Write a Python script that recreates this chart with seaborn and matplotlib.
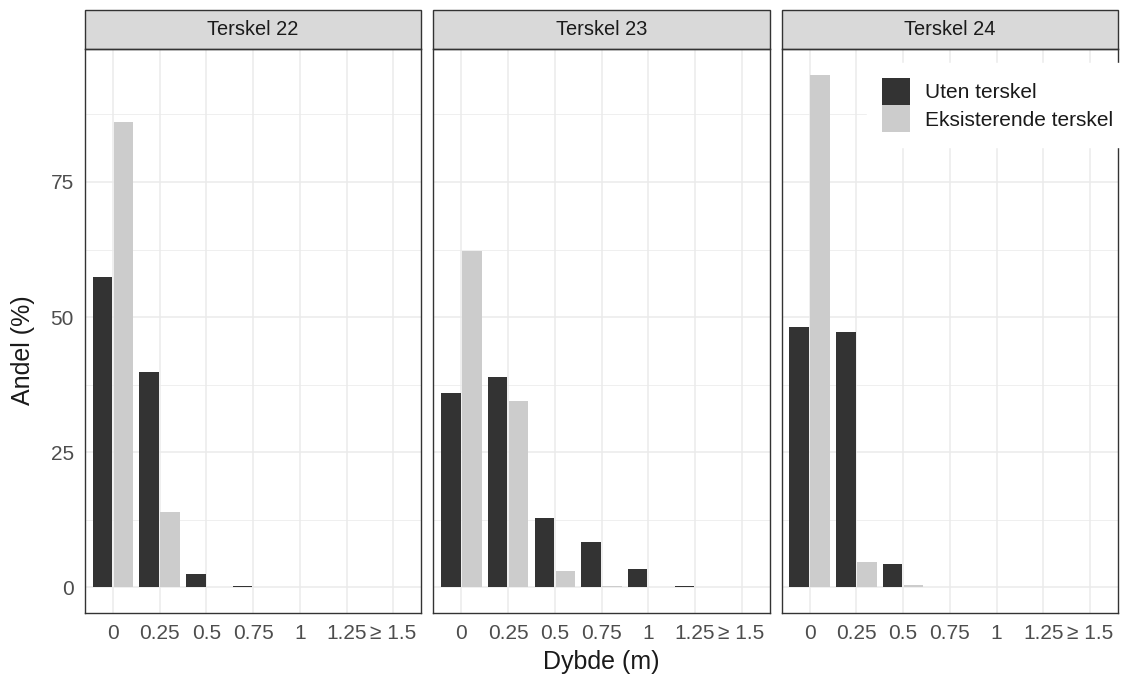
import matplotlib
matplotlib.use("Agg")
import matplotlib.pyplot as plt
from matplotlib.patches import Rectangle
from matplotlib.ticker import MultipleLocator
import seaborn as sns
import pandas as pd

categories = ["0", "0.25", "0.5", "0.75", "1", "1.25", "≥ 1.5"]
panels = ["Terskel 22", "Terskel 23", "Terskel 24"]
series_names = ["Uten terskel", "Eksisterende terskel"]
uten_22 = [57.5, 39.9, 2.4, 0.2, 0, 0, 0]
eks_22 = [86.1, 14.0, 0, 0, 0, 0, 0]
uten_23 = [36.0, 39.0, 12.9, 8.3, 3.3, 0.3, 0]
eks_23 = [62.3, 34.4, 3.0, 0.2, 0, 0, 0]
uten_24 = [48.1, 47.3, 4.4, 0, 0, 0, 0]
eks_24 = [94.8, 4.7, 0.4, 0, 0, 0, 0]

values = {
    "Terskel 22": (uten_22, eks_22),
    "Terskel 23": (uten_23, eks_23),
    "Terskel 24": (uten_24, eks_24),
}

rows = []
for p in panels:
    u, e = values[p]
    for c, v in zip(categories, u):
        rows.append({"panel": p, "Dybde": c, "Type": series_names[0], "Andel": v})
    for c, v in zip(categories, e):
        rows.append({"panel": p, "Dybde": c, "Type": series_names[1], "Andel": v})
df = pd.DataFrame(rows)

sns.set_style("white")
plt.rcParams["font.family"] = ["Liberation Sans", "DejaVu Sans"]

palette = {series_names[0]: "#333333", series_names[1]: "#cccccc"}
tick_fs = 15
strip_fs = 14.4
legend_fs = 15
big = 18

W, H = 1123, 676
fig, axes = plt.subplots(1, 3, figsize=(W / 100, H / 100), dpi=100, sharey=True)
fig.subplots_adjust(left=85 / W, right=1118 / W, top=1 - 49 / H, bottom=1 - 613 / H, wspace=0.036)

strip_h = 39 / 564
for i, (ax, p) in enumerate(zip(axes, panels)):
    sub = df[df.panel == p]
    sns.barplot(data=sub, x="Dybde", y="Andel", hue="Type", order=categories,
                hue_order=series_names, palette=palette, width=0.9, gap=0.07,
                errorbar=None, linewidth=0, saturation=1, ax=ax, legend=(i == 2))
    ax.set_xlim(-0.6, 6.6)
    ax.set_ylim(-4.75, 99.6)
    ax.yaxis.set_major_locator(MultipleLocator(25))
    ax.yaxis.set_minor_locator(MultipleLocator(12.5))
    ax.set_yticks([0, 25, 50, 75])
    ax.set_axisbelow(True)
    ax.grid(True, which="major", color="#ebebeb", linewidth=1.1)
    ax.grid(True, which="minor", axis="y", color="#ebebeb", linewidth=0.55)
    for s in ax.spines.values():
        s.set_color("#333333")
        s.set_linewidth(1.0)
        s.set_visible(True)
    ax.tick_params(axis="both", which="major", length=4.5, width=1.1, color="#333333",
                   labelcolor="#4d4d4d", labelsize=tick_fs, pad=3.4)
    ax.tick_params(axis="y", which="minor", length=0)
    ax.set_xlabel("")
    ax.set_ylabel("")
    if i > 0:
        ax.tick_params(axis="y", which="both", left=False, labelleft=False)
    rect = Rectangle((0, 1), 1, strip_h, transform=ax.transAxes, clip_on=False,
                     facecolor="#d9d9d9", edgecolor="#333333", linewidth=1.0)
    ax.add_patch(rect)
    ax.text(0.5, 1 + strip_h / 2, p, transform=ax.transAxes, ha="center", va="center",
            fontsize=strip_fs, color="#1a1a1a")

leg_ax = axes[2]
old = leg_ax.get_legend()
handles = old.legend_handles
old.remove()
leg = leg_ax.legend(handles, series_names, loc="upper left",
                    bbox_to_anchor=(867 / W, 1 - 63 / H), bbox_transform=fig.transFigure,
                    frameon=True, fancybox=False, framealpha=1, facecolor="white",
                    edgecolor="white", fontsize=legend_fs, handlelength=1.35, handleheight=1.65,
                    labelspacing=0.0, handletextpad=0.72, borderpad=0.7, borderaxespad=0)
for t in leg.get_texts():
    t.set_color("#1a1a1a")

fig.text(23 / W, 1 - 350 / H, "Andel (%)", ha="center", va="center", rotation=90,
         fontsize=big, color="#1a1a1a")
fig.text(601 / W, 1 - 662 / H, "Dybde (m)", ha="center", va="center",
         fontsize=big, color="#1a1a1a")

fig.savefig("out.png", dpi=100, facecolor="white")
